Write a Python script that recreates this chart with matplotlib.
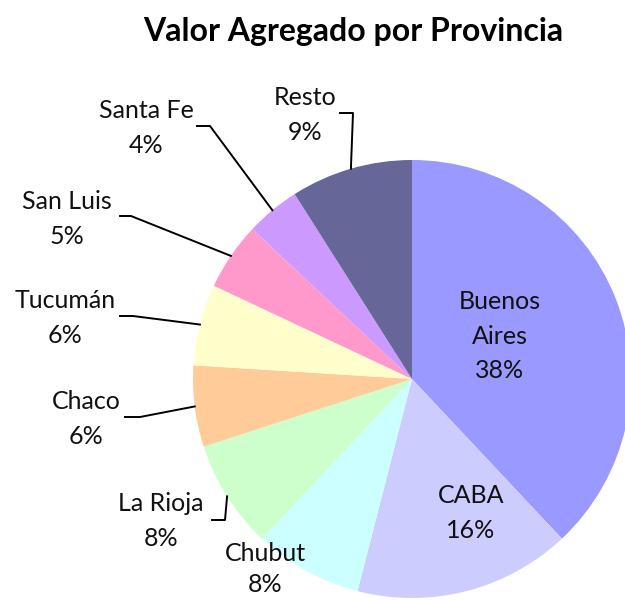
import numpy as np
import matplotlib
matplotlib.use('Agg')
import matplotlib.pyplot as plt

provincias = ['Buenos Aires', 'CABA', 'Chubut', 'La Rioja', 'Chaco',
              'Tucumán', 'San Luis', 'Santa Fe', 'Resto']
valores = [38, 16, 8, 8, 6, 6, 5, 4, 9]
colores = ['#9999FF', '#CCCCFF', '#CCFFFF', '#CCFFCC', '#FFCC99',
           '#FFFFCC', '#FF99CC', '#CC99FF', '#666699']

W, H = 625, 600
cx, cy, r = 412, 379, 219  # pie centre and radius in pixels (top-left origin)

# label text centre (pixel coords) and leader line (x start, y, x knee); None = inside
label_pos = {
    'Buenos Aires': (500, 336, None),
    'CABA': (471, 513, None),
    'Chubut': (265, 569, None),
    'La Rioja': (161, 521, (212, 520, 225)),
    'Chaco': (86, 419, (125, 417, 140)),
    'Tucumán': (65, 318, (120, 316, 133)),
    'San Luis': (67, 219, (120, 216, 131)),
    'Santa Fe': (146, 128, (197, 126, 210)),
    'Resto': (305, 115, (340, 113, 353)),
}

plt.rcParams['font.family'] = ['Lato', 'DejaVu Sans']

fig = plt.figure(figsize=(W / 100, H / 100), dpi=100)
ax = fig.add_axes([0, 0, 1, 1])


def fy(y):
    return H - y


wedges, _ = ax.pie(valores, colors=colores, startangle=90, counterclock=False,
                   center=(cx, fy(cy)), radius=r, frame=True,
                   wedgeprops=dict(linewidth=0))
ax.set_xlim(0, W)
ax.set_ylim(0, H)
ax.axis('off')

for w, nombre, v in zip(wedges, provincias, valores):
    tx, ty, leader = label_pos[nombre]
    if nombre == 'Buenos Aires':
        txt = 'Buenos\nAires\n%d%%' % v
    else:
        txt = '%s\n%d%%' % (nombre, v)
    ax.text(tx, fy(ty), txt, ha='center', va='center', fontsize=18,
            linespacing=1.6 if nombre != 'Chubut' else 1.45, color='#111111')
    if leader is not None:
        x0, ly, x1 = leader
        ang = np.deg2rad((w.theta1 + w.theta2) / 2)
        ex = cx + r * np.cos(ang)
        ey = fy(cy) + r * np.sin(ang)
        ax.plot([x0, x1, ex], [fy(ly), fy(ly), ey], color='black', lw=1.4)

ax.text(353, fy(31), 'Valor Agregado por Provincia', ha='center', va='center',
        fontsize=23, fontweight='bold', color='black')

fig.savefig('out.png', dpi=100)
